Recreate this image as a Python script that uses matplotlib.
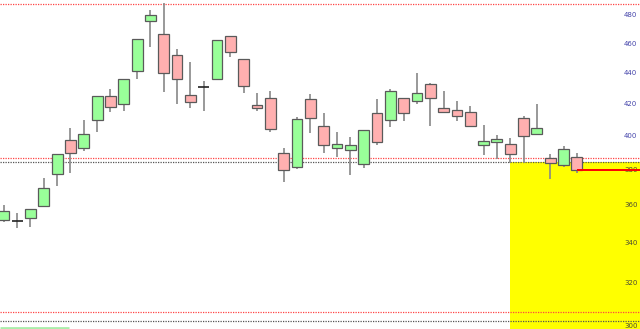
import numpy as np
import matplotlib
matplotlib.use('Agg')
import matplotlib.pyplot as plt
from matplotlib.ticker import NullLocator

# OHLC (log price axis)
opens = [351.8, 351.3, 352.9, 359.4, 377.2, 397.2, 392.4, 409.4, 424.6, 419.4,
         441.0, 475.7, 466.4, 451.8, 425.2, 430.4, 435.6, 465.0, 449.0, 418.8,
         423.3, 389.4, 381.3, 422.6, 405.7, 392.4, 391.2, 383.0, 413.8, 409.4,
         423.3, 421.4, 432.4, 416.9, 415.7, 414.4, 394.2, 396.0, 394.8, 410.6,
         400.8, 386.5, 382.4, 387.1]
highs = [359.9, 355.6, 357.8, 375.0, 388.8, 404.5, 409.4, 424.6, 429.1, 435.6,
         462.9, 483.6, 489.0, 455.9, 447.0, 434.3, 462.2, 465.0, 449.0, 426.5,
         427.8, 392.4, 411.3, 425.9, 413.8, 402.0, 399.0, 403.2, 422.6, 429.1,
         423.3, 439.6, 433.0, 427.8, 421.4, 418.2, 406.3, 400.0, 398.4, 411.9,
         419.4, 388.8, 393.6, 389.4]
lows = [350.8, 347.6, 348.1, 359.4, 370.4, 377.8, 390.6, 402.0, 414.4, 415.0,
        435.6, 457.3, 427.1, 419.4, 416.9, 415.0, 435.0, 450.4, 426.5, 415.0,
        402.0, 372.7, 380.1, 401.4, 389.4, 387.1, 376.7, 380.7, 394.2, 405.1,
        408.8, 419.4, 405.7, 413.8, 408.8, 405.1, 388.3, 385.9, 383.6, 383.6,
        400.8, 374.4, 381.3, 377.8]
closes = [356.7, 351.3, 357.8, 369.3, 388.8, 389.4, 400.8, 424.6, 417.5, 435.6,
          462.9, 480.0, 439.6, 435.6, 420.7, 430.4, 462.2, 453.8, 431.0, 416.9,
          403.9, 379.5, 410.0, 410.6, 394.2, 394.8, 394.2, 403.2, 396.0, 427.8,
          413.8, 426.5, 423.3, 414.4, 411.9, 405.7, 396.6, 397.8, 388.8, 399.6,
          404.5, 383.6, 391.8, 379.5]

red_levels = [488.1, 386.5, 306.0]
black_levels = [384.2, 301.9]
zone_start = 38      # yellow zone begins at this bar
zone_top = 384.2
last_close_from = 43
tick_values = [300, 320, 340, 360, 380, 400, 420, 440, 460, 480]

n = len(opens)
x = np.arange(n)

fig = plt.figure(figsize=(6.4, 3.29), dpi=100)
ax = fig.add_axes([0, 0, 1, 1])
ax.set_yscale('log')
ax.set_xlim(-0.28, 47.73)
ax.set_ylim(298.3, 491.0)

# yellow zone
ax.fill_between([zone_start, 48], 290, zone_top, color='#ffff00', zorder=0, linewidth=0)

for lv in red_levels:
    ax.axhline(lv, color='#ff4444', linestyle=(0, (1, 1)), linewidth=0.9, zorder=1)
for lv in black_levels:
    ax.axhline(lv, color='#555555', linestyle=(0, (1, 1)), linewidth=0.9, zorder=1)

# candles
ax.vlines(x, lows, highs, color='#888888', linewidth=1.2, zorder=2)
w = 0.82
for i in range(n):
    o, c = opens[i], closes[i]
    if abs(c - o) < 0.05:
        ax.hlines(o, i - w / 2, i + w / 2, color='#222222', linewidth=1.2, zorder=3)
        continue
    face = '#99ff99' if c > o else '#ffb0b0'
    ax.bar(i, abs(c - o), bottom=min(o, c), width=w, color=face,
           edgecolor='#5a5a5a', linewidth=0.9, zorder=3)

# last close line
ax.hlines(closes[-1], last_close_from, 48, color='#ff0000', linewidth=1.4, zorder=4)

# small green bar at bottom left
ax.hlines(298.9, -0.28, 4.9, color='#aaeeaa', linewidth=2, zorder=4)

ax.yaxis.tick_right()
ax.set_yticks(tick_values)
ax.set_yticklabels([str(v) for v in tick_values])
ax.yaxis.set_minor_locator(NullLocator())
ax.tick_params(axis='y', length=0, pad=-11.5, labelsize=5)
for lab, v in zip(ax.get_yticklabels(), tick_values):
    lab.set_color('#4a4a33' if v < zone_top else '#4444aa')
ax.set_xticks([])
for s in ax.spines.values():
    s.set_visible(False)

fig.savefig('out.png', dpi=100)
